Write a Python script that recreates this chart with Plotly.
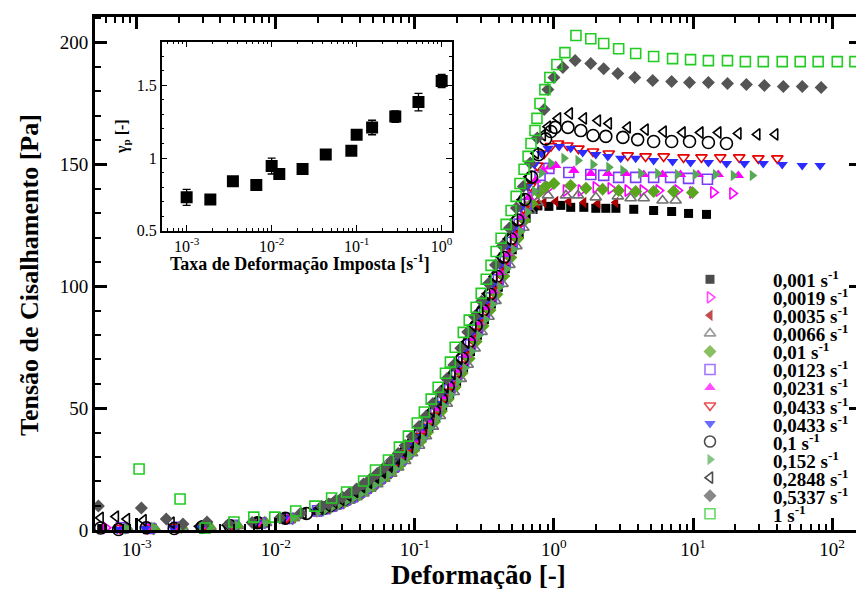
import plotly.graph_objects as go

FONT = "Liberation Serif"

# ---------------------------------------------------------------
# Main panel: shear stress (Pa) versus strain (-) per imposed rate
# Each run = low-strain points + points on one of five shared
# strain grids (the build-up) + the yield / plateau points.
# ---------------------------------------------------------------
rate_labels = ["0,001", "0,0019", "0,0035", "0,0066", "0,01", "0,0123", "0,0231",
               "0,0433", "0,0433", "0,1", "0,152", "0,2848", "0,5337", "1"]

strain_grid_p0 = [0.01995, 0.02239, 0.02512, 0.02818, 0.03162, 0.03548, 0.03981, 0.04467, 0.05012, 0.05623,
                  0.06310, 0.07079, 0.07943, 0.08913, 0.1000, 0.1122, 0.1259, 0.1413, 0.1585, 0.1778, 0.1995,
                  0.2239, 0.2512, 0.2818, 0.3162, 0.3548, 0.3981, 0.4467, 0.5012, 0.5623, 0.6310, 0.7079, 0.7943]
strain_grid_p1 = [0.02042, 0.02291, 0.02570, 0.02884, 0.03236, 0.03631, 0.04074, 0.04571, 0.05129, 0.05754,
                  0.06457, 0.07244, 0.08128, 0.09120, 0.1023, 0.1148, 0.1288, 0.1445, 0.1622, 0.1820, 0.2042,
                  0.2291, 0.2570, 0.2884, 0.3236, 0.3631, 0.4074, 0.4571, 0.5129, 0.5754, 0.6457, 0.7244, 0.8128]
strain_grid_p2 = [0.02089, 0.02344, 0.02630, 0.02951, 0.03311, 0.03715, 0.04169, 0.04677, 0.05248, 0.05888,
                  0.06607, 0.07413, 0.08318, 0.09333, 0.1047, 0.1175, 0.1318, 0.1479, 0.1660, 0.1862, 0.2089,
                  0.2344, 0.2630, 0.2951, 0.3311, 0.3715, 0.4169, 0.4677, 0.5248, 0.5888, 0.6607, 0.7413, 0.8318]
strain_grid_p3 = [0.02138, 0.02399, 0.02692, 0.03020, 0.03388, 0.03802, 0.04266, 0.04786, 0.05370, 0.06026,
                  0.06761, 0.07586, 0.08511, 0.09550, 0.1072, 0.1202, 0.1349, 0.1514, 0.1698, 0.1905, 0.2138,
                  0.2399, 0.2692, 0.3020, 0.3388, 0.3802, 0.4266, 0.4786, 0.5370, 0.6026, 0.6761, 0.7586, 0.8511]
strain_grid_p4 = [0.02188, 0.02455, 0.02754, 0.03090, 0.03467, 0.03890, 0.04365, 0.04898, 0.05495, 0.06166,
                  0.06918, 0.07762, 0.08710, 0.09772, 0.1096, 0.1230, 0.1380, 0.1549, 0.1738, 0.1950, 0.2188,
                  0.2455, 0.2754, 0.3090, 0.3467, 0.3890, 0.4365, 0.4898, 0.5495, 0.6166, 0.6918, 0.7762, 0.8710]

# 0,001 s-1
strain_low_r0001 = [5.6e-4, 8.13e-4, 1.29e-3, 2.04e-3, 3.24e-3, 5.13e-3, 8.13e-3, 1.29e-2]
stress_low_r0001 = [0.6, 0.4, 0.8, 0.7, 1.2, 1.6, 2.8, 4.6]
stress_rise_r0001 = [7.4, 8.4, 9.4, 10.6, 11.8, 13.2, 14.7, 16.5, 18.4, 20.5, 22.7, 25.2, 27.8, 30.8, 34.0,
                     37.7, 41.6, 45.9, 50.8, 55.6, 60.9, 66.6, 73.2, 79.9, 86.3, 92.7, 99.6, 107.2, 115.0,
                     121.5, 128.0, 131.5]
strain_plat_r0001 = [0.767, 0.92, 1.12, 1.32, 1.64, 2.0, 2.36, 2.79, 3.75, 5.21, 7.02, 9.29, 12.5]
stress_plat_r0001 = [133.0, 132.8, 133.2, 132.4, 132.4, 132.0, 132.0, 132.0, 131.6, 131.1, 130.7, 129.9, 129.5]

# 0,0019 s-1
strain_low_r0019 = [6.0e-4, 7.94e-4, 1.26e-3, 2.00e-3, 3.16e-3, 5.01e-3, 7.94e-3, 1.26e-2]
stress_low_r0019 = [0.9, 0.6, 1.0, 0.8, 1.3, 1.8, 3.1, 4.9]
stress_rise_r0019 = [7.8, 8.8, 9.8, 11.0, 12.3, 13.8, 15.4, 17.3, 19.2, 21.4, 23.6, 26.2, 28.9, 32.1, 35.4,
                     39.3, 43.3, 47.8, 52.8, 57.7, 63.2, 69.1, 75.9, 82.5, 88.8, 95.4, 102.6, 110.3, 118.0,
                     125.6, 132.5, 137.0]
strain_plat_r0019 = [0.81, 0.92, 1.22, 1.56, 2.0, 2.56, 3.39, 4.35, 5.66, 7.74, 9.91, 14.0, 19.2]
stress_plat_r0019 = [139.0, 140.6, 139.3, 139.3, 140.6, 140.2, 139.3, 139.3, 139.3, 139.3, 138.5, 138.5, 138.1]

# 0,0035 s-1
strain_low_r0035 = [7.94e-4, 1.26e-3, 2.00e-3, 3.16e-3, 5.01e-3, 7.94e-3, 1.26e-2]
stress_low_r0035 = [0.7, 0.5, 1.1, 0.9, 1.6, 3.0, 4.7]
stress_rise_r0035 = [8.0, 9.0, 10.1, 11.3, 12.6, 14.1, 15.8, 17.7, 19.7, 21.8, 24.1, 26.7, 29.6, 32.7, 36.2,
                     40.1, 44.2, 48.8, 53.7, 58.8, 64.3, 70.5, 77.2, 83.8, 90.1, 96.8, 104.1, 111.9, 119.5,
                     127.2, 132.5]
strain_plat_r0035 = [0.76, 0.847, 1.03, 1.28, 1.64, 2.07, 2.78]
stress_plat_r0035 = [133.8, 134.4, 134.8, 134.8, 134.4, 134.0, 134.4]

# 0,0066 s-1
strain_low_r0066 = [8.51e-4, 1.35e-3, 2.14e-3, 3.39e-3, 5.37e-3, 8.51e-3, 1.35e-2]
stress_low_r0066 = [1.0, 0.7, 0.9, 1.2, 1.7, 2.9, 4.8]
stress_rise_r0066 = [7.6, 8.6, 9.6, 10.8, 12.0, 13.5, 15.0, 16.9, 18.8, 21.0, 23.1, 25.7, 28.3, 31.5, 34.6,
                     38.5, 42.4, 46.8, 51.8, 56.6, 62.0, 67.8, 74.5, 81.3, 87.5, 94.0, 101.0, 108.8, 116.5,
                     124.0, 131.0, 134.5]
strain_plat_r0066 = [0.906, 1.22, 1.49, 2.0, 2.88, 3.56, 4.42, 6.04, 7.5]
stress_plat_r0066 = [137.3, 137.3, 137.3, 136.5, 136.9, 136.1, 136.1, 135.2, 135.2]

# 0,01 s-1
strain_low_r01 = [8.32e-4, 1.32e-3, 2.09e-3, 3.31e-3, 5.25e-3, 8.32e-3, 1.32e-2]
stress_low_r01 = [0.8, 0.4, 1.0, 1.2, 1.5, 3.2, 4.6]
stress_rise_r01 = [8.1, 8.9, 10.2, 11.2, 12.7, 14.0, 15.9, 17.6, 19.8, 21.7, 24.2, 26.6, 29.7, 32.6, 36.3,
                   40.0, 44.3, 48.7, 53.8, 58.7, 64.4, 70.4, 77.3, 83.7, 90.2, 96.7, 104.2, 111.8, 119.6,
                   127.1, 134.0, 138.5, 141.0]
strain_plat_r01 = [1.0, 1.32, 1.70, 2.24, 2.92, 3.87, 5.21, 7.25, 9.91]
stress_plat_r01 = [142.2, 141.4, 140.2, 139.8, 139.3, 138.9, 138.9, 138.9, 138.5]

# 0,0123 s-1
strain_low_r0123 = [7.76e-4, 1.23e-3, 1.95e-3, 3.09e-3, 4.90e-3, 7.76e-3, 1.23e-2]
stress_low_r0123 = [0.9, 0.6, 1.1, 1.0, 1.9, 2.9, 4.7]
stress_rise_r0123 = [7.9, 8.7, 9.9, 10.9, 12.4, 13.7, 15.5, 17.2, 19.3, 21.3, 23.7, 26.1, 29.0, 32.0, 35.5,
                     39.2, 43.4, 47.7, 52.9, 57.6, 63.3, 69.0, 76.0, 82.4, 88.9, 95.3, 102.7, 110.2, 118.1,
                     125.5, 133.6, 140.5, 145.5]
strain_plat_r0123 = [0.92, 1.28, 1.84, 2.28, 2.92, 3.87, 5.21, 6.90, 9.29, 12.7]
stress_plat_r0123 = [148.4, 146.7, 145.9, 145.5, 144.7, 144.7, 144.7, 144.7, 144.3, 143.9]

# 0,0231 s-1
strain_low_r0231 = [7.76e-4, 1.23e-3, 1.95e-3, 3.09e-3, 4.90e-3, 7.76e-3, 1.23e-2]
stress_low_r0231 = [0.5, 1.0, 0.8, 1.4, 1.6, 3.1, 4.9]
stress_rise_r0231 = [8.2, 9.2, 10.3, 11.5, 12.9, 14.4, 16.1, 18.0, 20.1, 22.2, 24.7, 27.3, 30.2, 33.3, 36.9,
                     40.8, 45.0, 49.8, 54.7, 59.8, 65.5, 71.8, 78.6, 85.0, 91.4, 98.2, 105.7, 113.4, 121.0,
                     128.8, 136.5, 143.5, 147.5]
strain_plat_r0231 = [0.93, 1.03, 1.39, 1.84, 2.44, 3.28, 4.42, 6.04, 8.13, 10.9, 15.2, 21.2]
stress_plat_r0231 = [149.0, 149.6, 147.5, 146.3, 146.3, 146.3, 145.9, 145.9, 145.9, 145.9, 145.9, 145.5]

# 0,0433 s-1 (open)
strain_low_r0433a = [7.59e-4, 1.20e-3, 1.91e-3, 3.02e-3, 4.79e-3, 7.59e-3, 1.20e-2]
stress_low_r0433a = [0.8, 0.5, 1.2, 1.0, 1.6, 2.9, 4.8]
stress_rise_r0433a = [8.7, 9.5, 10.9, 11.9, 13.6, 14.9, 17.0, 18.7, 21.1, 23.0, 25.8, 28.2, 31.6, 34.5, 38.6,
                      42.3, 46.9, 51.7, 56.7, 61.9, 67.9, 74.4, 81.4, 87.4, 94.1, 100.9, 108.9, 116.4, 124.1,
                      131.9, 141.1, 149.5, 154.5]
strain_plat_r0433a = [0.95, 1.07, 1.25, 1.5, 1.91, 2.48, 3.39, 4.56, 6.15, 8.55, 11.5, 15.7, 21.5, 29.5, 40.4]
stress_plat_r0433a = [157.5, 158.6, 157.8, 156.5, 155.3, 154.5, 153.7, 153.3, 153.3, 152.9, 152.9, 152.9,
                      152.9, 152.5, 152.5]

# 0,0433 s-1 (filled)
strain_low_r0433b = [7.24e-4, 1.15e-3, 1.82e-3, 2.88e-3, 4.57e-3, 7.24e-3, 1.15e-2]
stress_low_r0433b = [0.3, 0.6, 0.9, 1.0, 1.8, 3.1, 4.9]
stress_rise_r0433b = [8.5, 9.7, 10.7, 12.1, 13.4, 15.1, 16.8, 18.9, 20.9, 23.2, 25.6, 28.4, 31.4, 34.7, 38.4,
                      42.5, 46.7, 51.9, 56.5, 62.1, 67.7, 74.6, 81.2, 87.6, 93.9, 101.1, 108.7, 116.6, 123.9,
                      132.1, 140.9, 150.0, 154.5]
strain_plat_r0433b = [0.906, 1.09, 1.32, 1.61, 2.0, 2.44, 3.02, 3.87, 5.21, 7.13, 9.6, 12.9, 17.4, 23.4, 32.0,
                      43.8, 61.0, 82.0]
stress_plat_r0433b = [156.6, 157.4, 156.6, 154.9, 154.1, 153.3, 152.5, 152.5, 151.6, 151.2, 150.8, 150.8,
                      150.4, 150.4, 150.4, 150.0, 149.6, 149.6]

# 0,1 s-1
strain_low_r1 = [5.5e-4, 7.41e-4, 1.17e-3, 1.86e-3, 2.95e-3, 4.68e-3, 7.41e-3, 1.17e-2, 1.66e-2]
stress_low_r1 = [0.8, 0.2, 0.9, 0.6, 1.2, 1.7, 3.0, 4.8, 6.8]
stress_rise_r1 = [9.0, 10.1, 11.3, 12.6, 14.1, 15.8, 17.7, 19.7, 21.8, 24.1, 26.7, 29.6, 32.7, 36.2, 40.1,
                  44.2, 48.8, 53.7, 58.8, 64.3, 70.5, 77.2, 83.8, 90.1, 96.8, 104.1, 111.9, 119.5, 127.2,
                  135.6, 144.8, 154.0, 160.5]
strain_plat_r1 = [0.95, 1.02, 1.26, 1.56, 1.91, 2.36, 3.13, 4.0, 5.21, 7.02, 9.44, 12.9, 17.4]
stress_plat_r1 = [163.5, 165.2, 165.2, 163.9, 161.9, 161.5, 161.1, 160.2, 159.4, 159.4, 159.4, 159.0, 158.6]

# 0,152 s-1
strain_low_r152 = [8.32e-4, 1.32e-3, 2.09e-3, 3.31e-3, 5.25e-3, 8.32e-3, 1.32e-2]
stress_low_r152 = [0.6, 1.1, 0.7, 1.3, 1.9, 2.8, 4.9]
stress_rise_r152 = [7.5, 8.3, 9.5, 10.5, 11.9, 13.1, 14.8, 16.4, 18.5, 20.4, 22.8, 25.1, 27.9, 30.7, 34.1,
                    37.6, 41.7, 45.8, 50.9, 55.5, 61.0, 66.5, 73.3, 79.8, 86.4, 92.6, 99.7, 107.1, 115.1,
                    122.4, 130.5, 139.0, 146.5]
strain_plat_r152 = [0.951, 1.18, 1.49, 1.91, 2.48, 3.13, 4.21, 5.57, 7.74, 10.4, 14.5, 19.5, 26.7]
stress_plat_r152 = [150.5, 152.5, 151.6, 150.0, 148.8, 147.5, 146.3, 146.3, 145.9, 145.9, 145.9, 145.5, 145.5]

# 0,2848 s-1
strain_low_r2848 = [5.5e-4, 7.08e-4, 8.5e-4, 1.12e-3, 1.78e-3, 2.82e-3, 4.47e-3, 7.08e-3, 1.12e-2, 1.58e-2]
stress_low_r2848 = [5.0, 5.5, 4.5, 4.0, 3.0, 1.5, 2.0, 3.0, 4.8, 6.8]
stress_rise_r2848 = [9.1, 10.0, 11.4, 12.5, 14.2, 15.7, 17.8, 19.6, 21.9, 24.0, 26.8, 29.5, 32.8, 36.1, 40.2,
                     44.1, 48.9, 53.6, 58.9, 64.2, 70.6, 77.1, 83.9, 90.0, 96.9, 104.0, 112.0, 119.4, 127.3,
                     135.5, 144.9, 154.6, 162.0]
strain_plat_r2848 = [0.906, 1.07, 1.30, 1.64, 2.07, 2.48, 3.39, 4.56, 6.15, 8.41, 11.3, 15.2, 21.2, 29.0, 39.0]
stress_plat_r2848 = [165.5, 168.9, 170.9, 168.9, 168.0, 166.8, 165.2, 164.3, 163.5, 163.1, 163.1, 163.1,
                     162.7, 162.3, 162.3]

# 0,5337 s-1
strain_low_r5337 = [5.3e-4, 1.08e-3, 1.63e-3, 2.15e-3, 3.2e-3, 4.6e-3, 6.76e-3, 1.07e-2, 1.51e-2]
stress_low_r5337 = [9.8, 9.0, 4.5, 2.5, 3.3, 2.4, 3.1, 4.9, 6.9]
stress_rise_r5337 = [9.7, 10.7, 12.1, 13.4, 15.1, 16.8, 18.9, 20.9, 23.2, 25.6, 28.4, 31.4, 34.7, 38.4, 42.5,
                     46.7, 51.9, 56.5, 62.1, 67.7, 74.6, 81.2, 87.6, 93.9, 101.1, 108.7, 116.6, 123.9, 132.1,
                     140.9, 150.6, 160.8, 172.5]
strain_plat_r5337 = [0.905, 1.0, 1.16, 1.42, 1.84, 2.28, 2.88, 3.81, 5.13, 7.02, 9.44, 12.9, 17.7, 24.2, 32.6,
                     44.6, 61.0, 83.4]
stress_plat_r5337 = [180.7, 185.7, 189.8, 192.6, 191.4, 189.3, 187.3, 185.7, 184.4, 184.0, 183.6, 183.6,
                     183.2, 182.8, 182.4, 182.0, 182.0, 181.6]

# 1 s-1 (complete run)
strain_r10 = [1.04e-3, 2.05e-3, 3.10e-3, 5.00e-3, 6.95e-3, 9.84e-3, 0.0139, 0.0191, 0.0252, 0.0323, 0.0428,
              0.0521, 0.0646, 0.0774, 0.0898, 0.104, 0.117, 0.131, 0.147, 0.166, 0.180, 0.195, 0.223, 0.246,
              0.276, 0.300, 0.326, 0.353, 0.384, 0.417, 0.453, 0.492, 0.535, 0.570, 0.610, 0.652, 0.684,
              0.731, 0.755, 0.794, 0.861, 0.935, 1.05, 1.20, 1.44, 1.84, 2.28, 2.92, 3.87, 5.21, 7.13, 9.60,
              12.9, 17.7, 23.8, 32.0, 43.8, 59.0, 79.4, 109.0, 146.0]
stress_r10 = [25.0, 12.7, 0.8, 3.3, 5.3, 5.3, 7.8, 9.8, 13.1, 15.6, 20.1, 24.6, 28.7, 34.0, 38.5, 43.9, 48.4,
              53.7, 58.6, 64.3, 68.9, 75.0, 81.1, 86.1, 91.4, 97.1, 102.9, 108.6, 114.3, 119.7, 125.4, 131.1,
              136.9, 142.2, 148.0, 153.3, 158.6, 163.9, 168.9, 175.0, 180.7, 185.7, 191.0, 195.9, 202.9,
              201.6, 199.6, 197.5, 195.5, 194.3, 193.4, 193.0, 192.6, 192.6, 192.2, 192.2, 192.2, 192.2,
              192.2, 192.2, 192.2]


def assemble(low_x, low_y, grid, rise_y, plat_x, plat_y):
    """Join the three parts of a run into one strain / stress pair."""
    return low_x + grid[:len(rise_y)] + plat_x, low_y + rise_y + plat_y


series = [
    assemble(strain_low_r0001, stress_low_r0001, strain_grid_p0, stress_rise_r0001, strain_plat_r0001, stress_plat_r0001),
    assemble(strain_low_r0019, stress_low_r0019, strain_grid_p1, stress_rise_r0019, strain_plat_r0019, stress_plat_r0019),
    assemble(strain_low_r0035, stress_low_r0035, strain_grid_p2, stress_rise_r0035, strain_plat_r0035, stress_plat_r0035),
    assemble(strain_low_r0066, stress_low_r0066, strain_grid_p3, stress_rise_r0066, strain_plat_r0066, stress_plat_r0066),
    assemble(strain_low_r01, stress_low_r01, strain_grid_p4, stress_rise_r01, strain_plat_r01, stress_plat_r01),
    assemble(strain_low_r0123, stress_low_r0123, strain_grid_p0, stress_rise_r0123, strain_plat_r0123, stress_plat_r0123),
    assemble(strain_low_r0231, stress_low_r0231, strain_grid_p2, stress_rise_r0231, strain_plat_r0231, stress_plat_r0231),
    assemble(strain_low_r0433a, stress_low_r0433a, strain_grid_p3, stress_rise_r0433a, strain_plat_r0433a, stress_plat_r0433a),
    assemble(strain_low_r0433b, stress_low_r0433b, strain_grid_p1, stress_rise_r0433b, strain_plat_r0433b, stress_plat_r0433b),
    assemble(strain_low_r1, stress_low_r1, strain_grid_p4, stress_rise_r1, strain_plat_r1, stress_plat_r1),
    assemble(strain_low_r152, stress_low_r152, strain_grid_p1, stress_rise_r152, strain_plat_r152, stress_plat_r152),
    assemble(strain_low_r2848, stress_low_r2848, strain_grid_p2, stress_rise_r2848, strain_plat_r2848, stress_plat_r2848),
    assemble(strain_low_r5337, stress_low_r5337, strain_grid_p3, stress_rise_r5337, strain_plat_r5337, stress_plat_r5337),
    (strain_r10, stress_r10),
]

marker_symbols = ["square", "triangle-right-open", "triangle-left", "triangle-up-open", "diamond",
                  "square-open", "triangle-up", "triangle-down-open", "triangle-down", "circle-open",
                  "triangle-right", "triangle-left-open", "diamond", "square-open"]
marker_colors = ["#000000", "#FF00FF", "#A80000", "#707070", "#5AA51E", "#7A3CF5", "#FF00FF",
                 "#E60000", "#2B2BFF", "#000000", "#55AA55", "#000000", "#555555", "#22CC22"]
marker_sizes = [9, 10, 10, 10, 10, 10, 10, 10, 10, 12, 10, 10, 10, 10]

# ---------------------------------------------------------------
# Inset: peak strain versus imposed shear rate
# ---------------------------------------------------------------
inset_rate = [0.001, 0.0019, 0.0035, 0.0066, 0.01, 0.0123, 0.0231, 0.0433, 0.0866, 0.1, 0.152,
              0.2848, 0.5337, 1.0]
inset_gamma_p = [0.73, 0.715, 0.84, 0.815, 0.945, 0.89, 0.925, 1.025, 1.05, 1.16, 1.21, 1.285, 1.385, 1.53]
inset_err = [0.055, 0.01, 0.025, 0.01, 0.055, 0.01, 0.01, 0.015, 0.015, 0.015, 0.05, 0.04, 0.06, 0.045]

main_xticks = [1e-3, 1e-2, 1e-1, 1e0, 1e1, 1e2]
main_xtext = ["10<sup>-3</sup>", "10<sup>-2</sup>", "10<sup>-1</sup>", "10<sup>0</sup>",
              "10<sup>1</sup>", "10<sup>2</sup>"]
inset_xticks = [1e-3, 1e-2, 1e-1, 1e0]
inset_xtext = ["10<sup>-3</sup>", "10<sup>-2</sup>", "10<sup>-1</sup>", "10<sup>0</sup>"]

main_minor = [m * 10.0 ** e for e in range(-4, 3) for m in range(2, 10)]
inset_minor = [m * 10.0 ** e for e in range(-4, 1) for m in range(2, 10)]

# frame of the main plotting area in page pixels
W, H = 856, 589
FRAME_L, FRAME_R, FRAME_T, FRAME_B = 95, 856, 17, 530


def to_paper(px, py):
    """Page pixel position -> paper fraction of the main plotting area."""
    return (px - FRAME_L) / (FRAME_R - FRAME_L), (FRAME_B - py) / (FRAME_B - FRAME_T)


fig = go.Figure()

for (xs, ys), sym, col, sz in zip(series, marker_symbols, marker_colors, marker_sizes):
    is_open = sym.endswith("-open")
    fig.add_trace(go.Scatter(
        x=xs, y=ys, mode="markers", cliponaxis=False, showlegend=False, hoverinfo="skip",
        marker=dict(symbol=sym, size=sz, color=col,
                    line=dict(color=col, width=1.6 if is_open else 0)),
    ))

# right-hand tick marks of the main frame
fig.add_trace(go.Scatter(x=[], y=[], yaxis="y2", showlegend=False, hoverinfo="skip"))

# inset data with error bars
fig.add_trace(go.Scatter(
    x=inset_rate, y=inset_gamma_p, xaxis="x2", yaxis="y3", mode="markers", showlegend=False,
    hoverinfo="skip",
    marker=dict(symbol="square", size=12, color="black"),
    error_y=dict(type="data", array=inset_err, visible=True, color="black", thickness=1.3, width=4),
))

# key: one symbol per rate, stacked in a column (pixel-frame overlay axes)
LEG_X_MARK, LEG_X_TEXT, LEG_Y0, LEG_DY = 710, 771, 279.3, 18.03
leg_y = [LEG_Y0 + i * LEG_DY for i in range(len(rate_labels))]
fig.add_trace(go.Scatter(
    x=[LEG_X_MARK] * len(rate_labels), y=leg_y, xaxis="x3", yaxis="y4", mode="markers",
    showlegend=False, hoverinfo="skip", cliponaxis=False,
    marker=dict(symbol=marker_symbols, size=[min(s, 11) for s in marker_sizes], color=marker_colors,
                line=dict(color=marker_colors,
                          width=[1.6 if s.endswith("-open") else 0 for s in marker_symbols])),
))

annotations = []
for lab, yy in zip(rate_labels, leg_y):
    annotations.append(dict(
        x=LEG_X_TEXT, y=yy, xref="x3", yref="y4", xanchor="left", yanchor="middle",
        text=f"<b>{lab} s<sup>-1</sup></b>", showarrow=False,
        font=dict(family=FONT, size=19, color="black"),
    ))

# axis titles (page pixel positions converted to paper fractions)
title_specs = [
    ("<b>Deformação [-]</b>", 479, 575, 0, 27),
    ("<b>Tensão de Cisalhamento [Pa]</b>", 29, 275, -90, 26),
    ("<b>Taxa de Deformação Imposta [s<sup>-1</sup>]</b>", 300, 262, 0, 18),
    ("<b>γ<sub>p</sub> [-]</b>", 122, 137, -90, 16),
]
for txt, tx, ty, ang, fs in title_specs:
    fx, fy = to_paper(tx, ty)
    annotations.append(dict(
        x=fx, y=fy, xref="paper", yref="paper", xanchor="center", yanchor="middle", textangle=ang,
        text=txt, showarrow=False, font=dict(family=FONT, size=fs, color="black"),
    ))

tick_font = dict(family=FONT, size=19, color="black")
inset_font = dict(family=FONT, size=16, color="black")

fig.update_layout(
    width=W, height=H,
    margin=dict(l=FRAME_L, r=W - FRAME_R, t=FRAME_T, b=H - FRAME_B, pad=0),
    paper_bgcolor="white", plot_bgcolor="white",
    showlegend=False,
    annotations=annotations,
    xaxis=dict(
        type="log", range=[-3.30, 2.172], showline=True, linewidth=3, linecolor="black",
        mirror="ticks", ticks="inside", ticklen=12, tickwidth=2.5, tickcolor="black",
        tickmode="array", tickvals=main_xticks, ticktext=main_xtext, tickfont=tick_font,
        minor=dict(tickmode="array", tickvals=main_minor, ticks="inside", ticklen=6, tickwidth=1.5,
                   tickcolor="black", showgrid=False),
        showgrid=False, zeroline=False,
    ),
    yaxis=dict(
        range=[0, 210.5], showline=True, linewidth=3, linecolor="black", mirror=False,
        ticks="inside", ticklen=12, tickwidth=2.5, tickcolor="black",
        tickmode="array", tickvals=[0, 50, 100, 150, 200], tickfont=tick_font,
        minor=dict(tickmode="linear", tick0=0, dtick=10, ticks="inside", ticklen=6, tickwidth=1.5,
                   tickcolor="black", showgrid=False),
        showgrid=False, zeroline=False,
    ),
    yaxis2=dict(
        overlaying="y", side="right", anchor="x", range=[0, 210.5], showline=False,
        ticks="inside", ticklen=7, tickwidth=2.5, tickcolor="black",
        tickmode="array", tickvals=[0, 50, 100, 150, 200], showticklabels=False,
        showgrid=False, zeroline=False,
    ),
    xaxis2=dict(
        domain=[0.0876, 0.4687], anchor="y3", type="log", range=[-3.294, 0.118],
        showline=True, linewidth=1.5, linecolor="black", mirror="ticks",
        ticks="inside", ticklen=6, tickwidth=1.2, tickcolor="black",
        tickmode="array", tickvals=inset_xticks, ticktext=inset_xtext, tickfont=inset_font,
        minor=dict(tickmode="array", tickvals=inset_minor, ticks="inside", ticklen=3, tickwidth=1,
                   tickcolor="black", showgrid=False),
        showgrid=False, zeroline=False,
    ),
    yaxis3=dict(
        domain=[0.5834, 0.9518], anchor="x2", range=[0.5, 1.8],
        showline=True, linewidth=1.5, linecolor="black", mirror="ticks",
        ticks="inside", ticklen=6, tickwidth=1.2, tickcolor="black",
        tickmode="array", tickvals=[0.5, 1, 1.5], ticktext=["0.5", "1", "1.5"], tickfont=inset_font,
        minor=dict(tickmode="linear", tick0=0.5, dtick=0.1, ticks="inside", ticklen=3, tickwidth=1,
                   tickcolor="black", showgrid=False),
        showgrid=False, zeroline=False,
    ),
    xaxis3=dict(overlaying="x", range=[FRAME_L, FRAME_R], visible=False),
    yaxis4=dict(overlaying="y", range=[FRAME_B, FRAME_T], visible=False),
)

fig.write_html("out.html")
